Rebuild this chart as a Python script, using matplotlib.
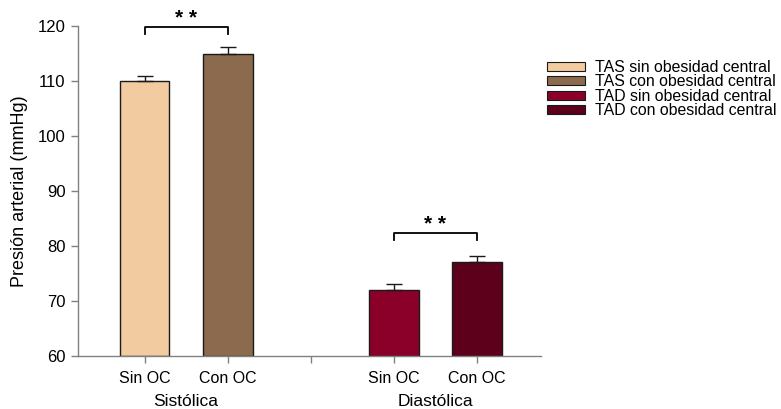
import matplotlib
matplotlib.use("Agg")
import matplotlib.pyplot as plt
from matplotlib.patches import Patch

plt.rcParams['font.family'] = ['Liberation Sans', 'DejaVu Sans']

series_labels = ["TAS sin obesidad central", "TAS con obesidad central",
                 "TAD sin obesidad central", "TAD con obesidad central"]
positions = [0, 1, 3, 4]
values = [110, 115, 72, 77]
errors = [1.0, 1.2, 1.0, 1.2]
colors = ["#F2CBA0", "#8B6A4E", "#8B0029", "#5C001B"]
tick_pos = [0, 1, 2, 3, 4]
tick_labels = ["Sin OC", "Con OC", "", "Sin OC", "Con OC"]
group_labels = ["Sistólica", "Diastólica"]
group_centers = [0.5, 3.5]

fig = plt.figure(figsize=(7.81, 4.09), dpi=100)
ax = fig.add_axes([0.0999, 0.1296, 0.5928, 0.8068])

for p, v, e, c in zip(positions, values, errors, colors):
    ax.bar(p, v - 60, bottom=60, width=0.6, color=c, edgecolor="#1a1a1a", linewidth=1.0, zorder=2)
    ax.errorbar(p, v, yerr=[[0], [e]], fmt="none", ecolor="#1a1a1a", elinewidth=1.0,
                capsize=6, capthick=1.0, zorder=3)

ax.set_ylim(60, 120)
ax.set_xlim(-0.8, 4.77)
ax.set_yticks(range(60, 121, 10))
ax.set_xticks(tick_pos)
ax.set_xticklabels(tick_labels, fontsize=11.5)
ax.tick_params(axis='y', labelsize=12, direction='out', length=5, color="#808080", width=1, pad=4)
ax.tick_params(axis='x', direction='out', length=5, color="#808080", width=1, pad=6)
for s in ["top", "right"]:
    ax.spines[s].set_visible(False)
for s in ["left", "bottom"]:
    ax.spines[s].set_color("#808080")
    ax.spines[s].set_linewidth(1)
ax.set_ylabel("Presión arterial (mmHg)", fontsize=13, va="center")
ax.yaxis.set_label_coords(-0.126, 0.5)

for gx, gl in zip(group_centers, group_labels):
    ax.text(gx, -0.139, gl, transform=ax.get_xaxis_transform(), ha="center", va="center", fontsize=12.5)

# significance brackets
def bracket(x1, x2, y, h):
    ax.plot([x1, x1, x2, x2], [y - h, y, y, y - h], color="black", lw=1.3, clip_on=False)
    ax.text((x1 + x2) / 2, y + 0.6, "* *", ha="center", va="baseline", fontsize=15, fontweight="bold")

bracket(0, 1, 119.8, 1.3)
bracket(3, 4, 82.4, 1.3)

handles = [Patch(facecolor=c, edgecolor="#1a1a1a", linewidth=0.8) for c in colors]
fig.legend(handles, series_labels, loc="upper left", bbox_to_anchor=(0.700, 0.853),
           frameon=False, fontsize=11.4, handlelength=2.45, handleheight=0.5,
           labelspacing=-0.04, handletextpad=0.6, borderaxespad=0, borderpad=0)

fig.savefig("out.png", dpi=100)
